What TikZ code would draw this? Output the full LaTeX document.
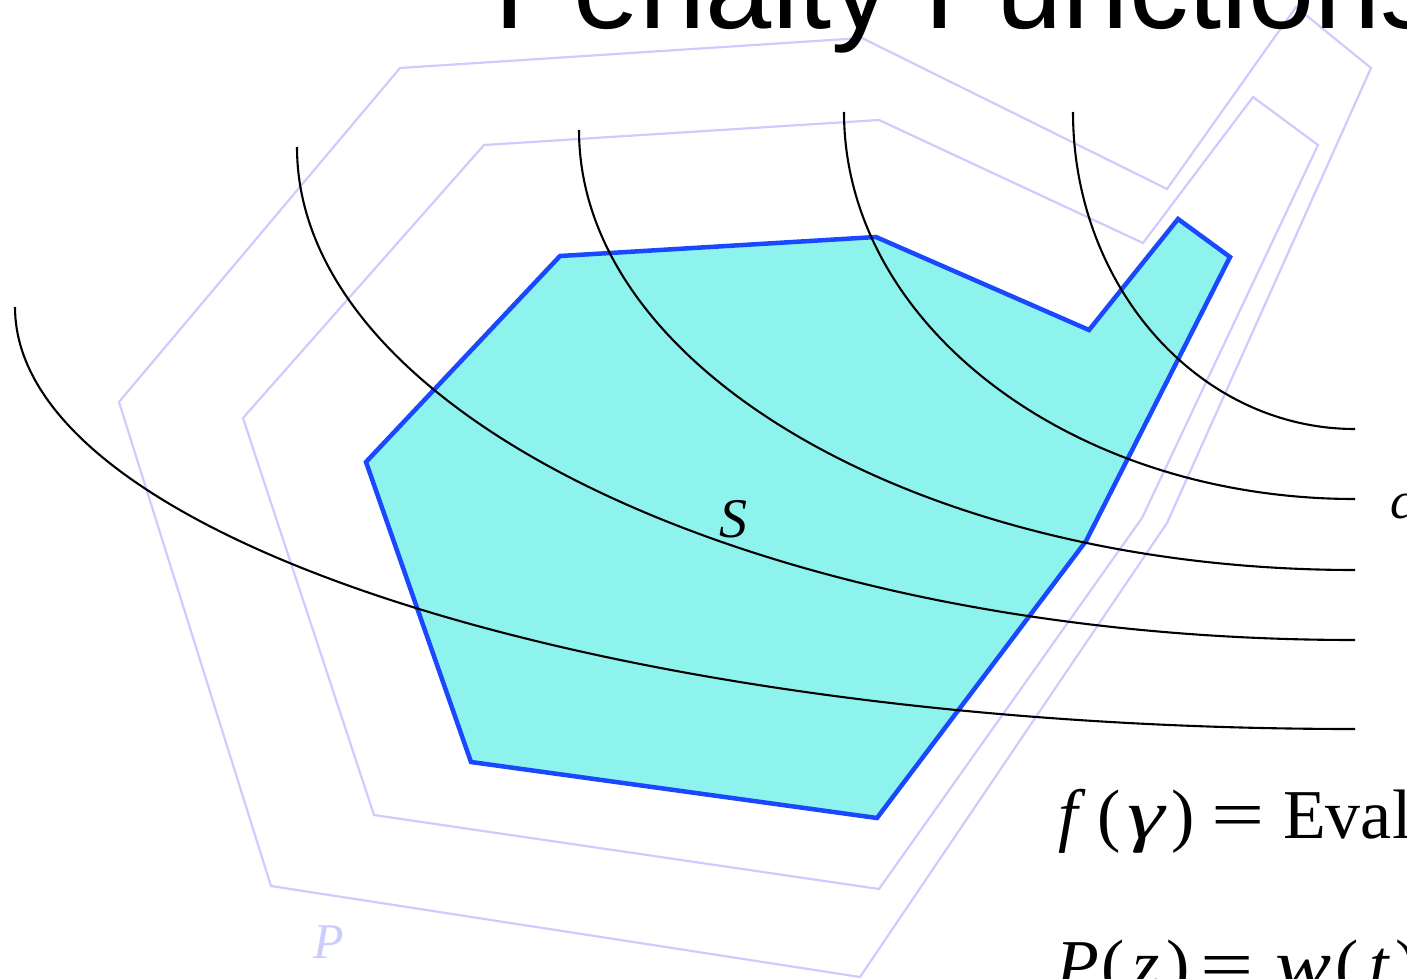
\documentclass[tikz,border=0pt]{standalone}
\usepackage{graphicx}
\usepackage{fontspec}
\newfontfamily\titlefont{Liberation Sans}
\newfontfamily\serifm{Liberation Serif}
\newcommand\glslot[2]{\makebox[#1pt][l]{#2}}
\newcommand\glmid[2]{\makebox[#1pt][c]{#2}}
\newcommand\wideeq{\scalebox{1.35}[1]{=}}
\definecolor{regionfill}{RGB}{141,243,236}
\definecolor{regionedge}{RGB}{26,72,255}
\definecolor{lav}{RGB}{204,204,255}
\begin{document}
\begin{tikzpicture}[x=1pt,y=-1pt,
  lavline/.style={draw=lav, line width=2.2pt},
  region/.style={fill=regionfill, draw=regionedge, line width=4.5pt},
  level/.style={draw=black, line width=2.1pt},
  lbl/.style={inner sep=0pt, anchor=base west}]
\path[use as bounding box] (0,0) rectangle (1407,979);
\clip (0,0) rectangle (1407,979);
% outer and inner offset polygons
\draw[lavline] (400,68) -- (862,38) -- (1167,189) -- (1296,7) -- (1371,68) -- (1167,523) -- (860,977) -- (271,886) -- (119,402) -- cycle;
\draw[lavline] (484,145) -- (879,120) -- (1143,243) -- (1253,97) -- (1318,145) -- (1142,518) -- (879,889) -- (374,815) -- (243,418) -- cycle;
% feasible region
\draw[region] (560,256) -- (876,237) -- (1089,330) -- (1178,219) -- (1230,257) -- (1086,541) -- (877,818) -- (471,762) -- (366,462) -- cycle;
% level curves (quarter ellipses)
\coordinate (c1) at (15,307);
\coordinate (c2) at (297,147);
\coordinate (c3) at (579,130);
\coordinate (c4) at (844,112);
\coordinate (c5) at (1073,112);
\draw[level] (c1) arc[start angle=180, end angle=270, x radius=1340pt, y radius=422pt];
\draw[level] (c2) arc[start angle=180, end angle=270, x radius=1058pt, y radius=493pt];
\draw[level] (c3) arc[start angle=180, end angle=270, x radius=776pt, y radius=440pt];
\draw[level] (c4) arc[start angle=180, end angle=270, x radius=511pt, y radius=387pt];
\draw[level] (c5) arc[start angle=180, end angle=270, x radius=282pt, y radius=317pt];
% texts
\node[lbl, font=\titlefont\fontsize{119}{119}\selectfont] (title) at (494,29) {Penalty Functions};
\node[lbl, font=\serifm\itshape\fontsize{56}{56}\selectfont] (S) at (719,537) {S};
\node[lbl, font=\serifm\itshape\fontsize{50}{50}\selectfont, text=lav] (P) at (313,958) {P};
\node[lbl, font=\serifm\itshape\fontsize{52}{52}\selectfont] (c) at (1390,518) {c};
\node[lbl, font=\serifm\fontsize{70}{70}\selectfont] (f) at (1058,838)
  {\glslot{39}{\itshape f}\glslot{23}{(}\glmid{51}{\scalebox{1.35}[1]{\itshape γ}}\glslot{40}{)}\glslot{72}{\wideeq}Eval};
\node[lbl, font=\serifm\fontsize{70}{70}\selectfont] (pen) at (1056,988)
  {\glslot{45}{\itshape P}\glslot{25}{(}\glmid{40}{\itshape z}\glslot{34}{)}\glslot{71}{\wideeq}\glmid{64}{\scalebox{1.2}[1]{\itshape w}}\glslot{28}{(}\glmid{32}{\itshape t})};
\end{tikzpicture}
\end{document}
